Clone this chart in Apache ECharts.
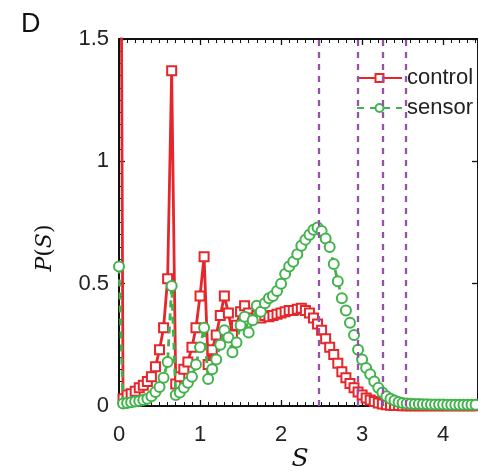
<!DOCTYPE html>
<html>
<head>
<meta charset="utf-8">
<script src="https://cdn.jsdelivr.net/npm/echarts@6/dist/echarts.min.js"></script>
<style>html,body{margin:0;padding:0;background:#fff}#c{width:478px;height:471px}</style>
</head>
<body>
<div id="c"></div>
<script>
// bin centres of S
var sBins = [0.00,0.05,0.10,0.15,0.20,0.25,0.30,0.35,0.40,0.45,0.50,0.55,0.60,0.65,0.70,0.75,0.80,0.85,0.90,0.95,
1.00,1.05,1.10,1.15,1.20,1.25,1.30,1.35,1.40,1.45,1.50,1.55,1.60,1.65,1.70,1.75,1.80,1.85,1.90,1.95,
2.00,2.05,2.10,2.15,2.20,2.25,2.30,2.35,2.40,2.45,2.50,2.55,2.60,2.65,2.70,2.75,2.80,2.85,2.90,2.95,
3.00,3.05,3.10,3.15,3.20,3.25,3.30,3.35,3.40,3.45,3.50,3.55,3.60,3.65,3.70,3.75,3.80,3.85,3.90,3.95,
4.00,4.05,4.10,4.15,4.20,4.25,4.30,4.35,4.40];
var control = [4.0,0.03,0.045,0.05,0.06,0.075,0.085,0.10,0.12,0.16,0.23,0.32,0.52,1.37,0.09,0.12,0.15,0.18,0.24,0.32,
0.45,0.61,0.17,0.23,0.29,0.37,0.45,0.38,0.29,0.33,0.385,0.41,0.38,0.36,0.37,0.36,0.37,0.365,0.37,0.375,
0.38,0.385,0.39,0.39,0.395,0.40,0.39,0.38,0.36,0.335,0.31,0.275,0.24,0.21,0.175,0.14,0.115,0.092,0.075,0.057,
0.045,0.033,0.025,0.018,0.012,0.008,0.005,0.003,0.002,0.002,0.001,0.001,0.001,0.001,0.001,0.001,0.001,0.001,0.001,0.001,
0.001,0.001,0.001,0.001,0.001,0.001,0.001,0.001,0.001];
var sensor = [0.57,0.01,0.012,0.015,0.018,0.02,0.025,0.03,0.04,0.057,0.078,0.115,0.18,0.49,0.045,0.055,0.075,0.095,0.12,0.17,
0.24,0.32,0.11,0.15,0.19,0.25,0.31,0.28,0.22,0.26,0.33,0.365,0.30,0.35,0.41,0.385,0.42,0.44,0.45,0.47,
0.50,0.54,0.57,0.59,0.62,0.655,0.68,0.70,0.72,0.73,0.715,0.685,0.65,0.58,0.51,0.44,0.39,0.34,0.29,0.23,
0.19,0.155,0.13,0.10,0.075,0.055,0.04,0.03,0.022,0.016,0.012,0.01,0.009,0.008,0.008,0.007,0.007,0.006,0.006,0.006,
0.006,0.005,0.005,0.005,0.005,0.005,0.005,0.005,0.005];
var vLines = [2.47, 2.95, 3.25, 3.54];
var xTicks = [0, 1, 2, 3, 4];
var yTicks = [0, 0.5, 1, 1.5];

var RED = '#e5262b', GREEN = '#42b34c', PURPLE = '#9553a8';
function pairs(ys){ return sBins.map(function(x,i){ return [x, ys[i]]; }); }

var chart = echarts.init(document.getElementById('c'), null, {renderer:'canvas'});
var axisCommon = {
  type:'value', min:0, max:4.43, interval:1,
  axisLine:{show:true, onZero:false, lineStyle:{color:'#111', width:2}},
  axisTick:{show:true, inside:true, length:6, lineStyle:{color:'#111', width:1.3}},
  minorTick:{show:true, splitNumber:10, length:4, lineStyle:{color:'#111', width:1}},
  splitLine:{show:false}
};
chart.setOption({
  animation:false,
  grid:{left:119, right:0, top:39, bottom:65},
  legend:{
    data:['control','sensor'], orient:'vertical', left:351, top:62,
    itemWidth:45, itemHeight:10, itemGap:8,
    textStyle:{fontFamily:'Liberation Sans', fontSize:22, color:'#222', lineHeight:22}
  },
  xAxis:[
    Object.assign({}, axisCommon, {position:'bottom',
      axisLabel:{show:true, fontFamily:'Liberation Sans', fontSize:22, color:'#222', margin:18, showMaxLabel:false,
        formatter:function(v){ return xTicks.indexOf(v) >= 0 ? String(v) : ''; }}}),
    Object.assign({}, axisCommon, {position:'top', axisLabel:{show:false}})
  ],
  yAxis:[
    {type:'value', min:0, max:1.5, interval:0.5, position:'left',
      axisLine:{show:true, onZero:false, lineStyle:{color:'#111', width:2}},
      axisTick:{show:true, inside:true, length:6, lineStyle:{color:'#111', width:1.3}},
      minorTick:{show:true, splitNumber:10, length:4, lineStyle:{color:'#111', width:1}},
      splitLine:{show:false},
      axisLabel:{fontFamily:'Liberation Sans', fontSize:22, color:'#222', margin:10,
        formatter:function(v){ return yTicks.indexOf(v) >= 0 ? String(v) : ''; }}},
    {type:'value', min:0, max:1.5, interval:0.5, position:'right',
      axisLine:{show:true, onZero:false, lineStyle:{color:'#111', width:2}},
      axisTick:{show:true, inside:true, length:6, lineStyle:{color:'#111', width:1.3}},
      splitLine:{show:false}, axisLabel:{show:false}}
  ],
  series:[
    {name:'control', type:'line', data:pairs(control), z:3,
      symbol:'emptyRect', symbolSize:9, showAllSymbol:true, clip:true,
      lineStyle:{color:RED, width:2.8}, itemStyle:{color:RED, borderWidth:3},
      markLine:{silent:true, symbol:'none', label:{show:false},
        lineStyle:{color:PURPLE, width:2.3, type:[6,6]},
        data: vLines.map(function(x){ return {xAxis:x}; })}
    },
    {name:'sensor', type:'line', data:pairs(sensor), z:4,
      symbol:'emptyCircle', symbolSize:10, showAllSymbol:true, clip:true,
      lineStyle:{color:GREEN, width:2.8, type:[7,6]}, itemStyle:{color:GREEN, borderWidth:3}}
  ],
  graphic:[
    {type:'text', left:21, top:11, style:{text:'D', fontFamily:'Liberation Sans', fontSize:27, fill:'#111'}},
    {type:'text', x:45, y:248, rotation:Math.PI/2, style:{
      text:'{i|P}{n|(}{i|S}{n|)}', align:'center', verticalAlign:'middle',
      rich:{i:{fontFamily:'DejaVu Serif', fontStyle:'italic', fontSize:22, fill:'#111'},
            n:{fontFamily:'DejaVu Serif', fontSize:22, fill:'#111'}}}},
    {type:'text', x:300, y:459, style:{text:'S', align:'center', verticalAlign:'middle',
      fontFamily:'DejaVu Serif', fontStyle:'italic', fontSize:25, fill:'#111'}}
  ]
});
</script>
</body>
</html>
